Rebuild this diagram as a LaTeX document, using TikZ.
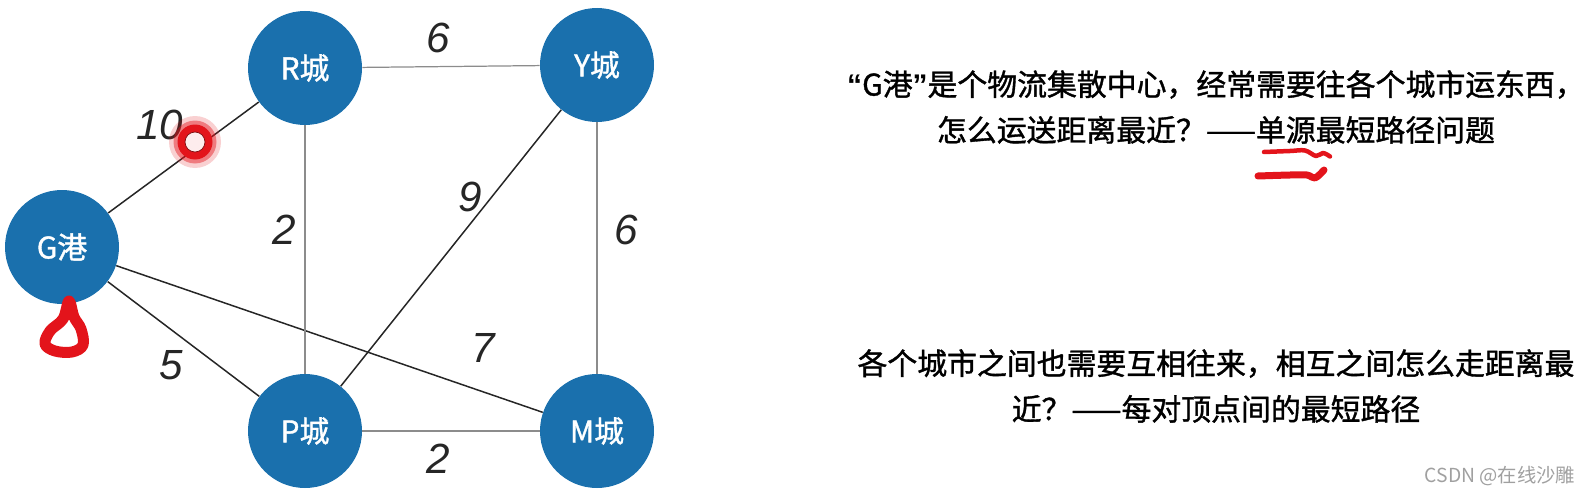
\documentclass[tikz,border=0pt]{standalone}
\usepackage{fontspec}
\setmainfont{Liberation Sans}
\newfontfamily\cjk{Noto Sans CJK SC}
\newfontfamily\cjkheavy[FakeBold=1.2]{Noto Sans CJK SC}
\usetikzlibrary{arrows.meta, positioning, calc}
\definecolor{city}     {HTML}{1A70AD}
\definecolor{road}     {HTML}{262626}
\definecolor{roadlight}{HTML}{8C8C8C}
\definecolor{pen}      {HTML}{E3141B}
\definecolor{muted}    {HTML}{A0A0A0}

\begin{document}
\begin{tikzpicture}[
    city/.style={circle, fill=city, minimum size=2.28cm, inner sep=0pt, text=white, font=\cjkheavy\fontsize{17}{17}\selectfont},
    road/.style={draw=road, line width=0.85pt},
    roadlight/.style={draw=roadlight, line width=0.7pt},
    weight/.style={text=road, font=\itshape\fontsize{24}{24}\selectfont},
    note/.style={align=center, font=\cjkheavy\fontsize{17}{26}\selectfont},
    ink/.style={draw=pen, line cap=round, line join=round}
  ]
  \useasboundingbox (0,0) rectangle (31.8,9.92);
  % cities
  \node[city] (g) at (1.24,4.98) {G港};
  \node[city] (r) at (6.10,8.56) {R城};
  \node[city] (y) at (11.94,8.62) {Y城};
  \node[city] (p) at (6.10,1.30) {P城};
  \node[city] (m) at (11.94,1.30) {M城};
  % roads
  \draw[road] (g) -- (r);
  \draw[road] (g) -- (p);
  \draw[road] (g) -- (m);
  \draw[road] (y) -- (p);
  \draw[roadlight] (r) -- (y);
  \draw[roadlight] (r) -- (p);
  \draw[roadlight] (y) -- (m);
  \draw[roadlight] (p) -- (m);
  % weights
  \node[weight] (wgr) at (3.20,7.42) {10};
  \node[weight] (wry) at (8.76,9.16) {6};
  \node[weight] (wrp) at (5.68,5.32) {2};
  \node[weight] (wyp) at (9.40,5.98) {9};
  \node[weight] (wym) at (12.52,5.32) {6};
  \node[weight] (wgp) at (3.42,2.62) {5};
  \node[weight] (wgm) at (9.66,2.96) {7};
  \node[weight] (wpm) at (8.76,0.74) {2};
  % red pointer on the G--R road
  \fill[pen, opacity=0.2] (3.90,7.08) circle (0.52);
  \fill[pen, opacity=0.45] (3.90,7.08) circle (0.43);
  \fill[pen] (3.90,7.08) circle (0.35);
  \filldraw[fill=white!92!pen, draw=pen!55!black, line width=0.4pt] (3.90,7.08) circle (0.2);
  % hand drawn marks
  \draw[ink, line width=0.22cm] plot[smooth cycle, tension=0.6] coordinates
    {(1.38,3.90) (1.26,3.54) (1.00,3.30) (0.90,3.04) (1.10,2.90) (1.44,2.88) (1.66,3.02) (1.62,3.34) (1.48,3.58)};
  \draw[ink, line width=0.09cm] plot[smooth, tension=0.6] coordinates
    {(25.28,6.88) (25.80,6.90) (26.10,6.91) (26.32,6.80) (26.46,6.86) (26.60,6.79)};
  \draw[ink, line width=0.14cm] plot[smooth, tension=0.6] coordinates
    {(25.16,6.40) (25.80,6.42) (26.14,6.42) (26.30,6.36) (26.48,6.52)};
  % questions
  \node[note] (q1) at (24.32,7.78) {{\rmfamily\bfseries “}G港{\rmfamily\bfseries ”}是个物流集散中心，经常需要往各个城市运东西，\\怎么运送距离最近？——单源最短路径问题};
  \node[note] (q2) at (24.32,2.20) {各个城市之间也需要互相往来，相互之间怎么走距离最\\近？——每对顶点间的最短路径};
  \node[text=muted, font=\cjk\fontsize{11}{11}\selectfont] (wm) at (30.0,0.40) {CSDN @在线沙雕};
\end{tikzpicture}
\end{document}
